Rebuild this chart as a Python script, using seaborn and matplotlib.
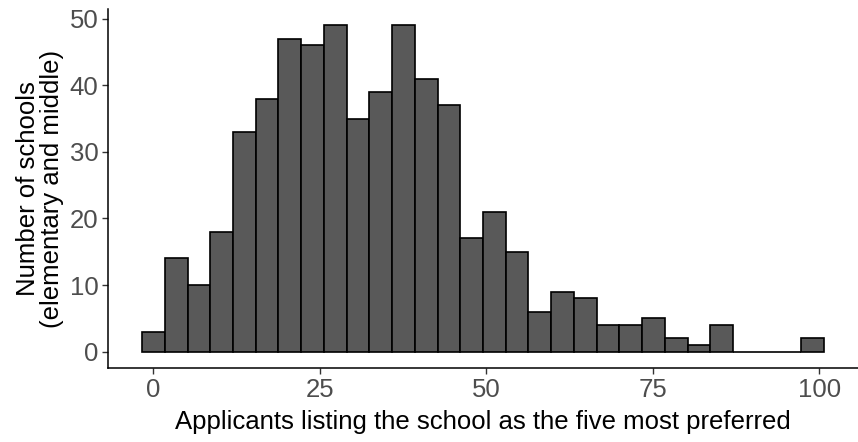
import numpy as np
import pandas as pd
import matplotlib
matplotlib.use("Agg")
import matplotlib.pyplot as plt
import seaborn as sns

sns.set_style("white")
plt.rcParams['font.family'] = ['Liberation Sans', 'DejaVu Sans']

# 每个柱子的计数（30 个分箱，第一个以 0 为中心，最后一个以 99 为中心）
counts = [3, 14, 10, 18, 33, 38, 47, 46, 49, 35, 39, 49, 41, 37, 17,
          21, 15, 6, 9, 8, 4, 4, 5, 2, 1, 4, 0, 0, 0, 2]
x_max_center = 99
x_ticks = [0, 25, 50, 75, 100]
y_ticks = [0, 10, 20, 30, 40, 50]
x_label = "Applicants listing the school as the five most preferred"
y_label = "Number of schools\n(elementary and middle)"

n_bins = len(counts)
w = x_max_center / (n_bins - 1)
centers = np.arange(n_bins) * w
lo, hi = -0.5 * w, (n_bins - 0.5) * w
df = pd.DataFrame({"center": centers, "count": np.array(counts, dtype=float)})

fig = plt.figure(figsize=(8.58, 4.42), dpi=100)
ax = fig.add_axes([108 / 858, 1 - 368 / 442, (858 - 108) / 858, (368 - 9) / 442])

sns.histplot(data=df, x="center", weights="count", binwidth=w, binrange=(lo, hi),
             ax=ax, color="#595959", alpha=1.0)
for p in ax.patches:
    p.set_edgecolor("black")
    p.set_linewidth(1.2)

span = hi - lo
ax.set_xlim(lo - 0.05 * span, hi + 0.05 * span)
ax.set_ylim(-0.05 * max(counts), max(counts) * 1.05)
ax.set_xticks(x_ticks)
ax.set_yticks(y_ticks)

for s in ["top", "right"]:
    ax.spines[s].set_visible(False)
for s in ["left", "bottom"]:
    ax.spines[s].set_color("black")
    ax.spines[s].set_linewidth(1.1)

ax.tick_params(axis="both", which="major", direction="out", length=4, width=1,
               color="#333333", labelcolor="#4D4D4D", labelsize=18.5, pad=3,
               bottom=True, left=True)
ax.set_xlabel(x_label, fontsize=18.5, color="black", labelpad=6)
ax.set_ylabel(y_label, fontsize=18.5, color="black", labelpad=4, linespacing=1.0)

fig.savefig("out.png", dpi=100)
